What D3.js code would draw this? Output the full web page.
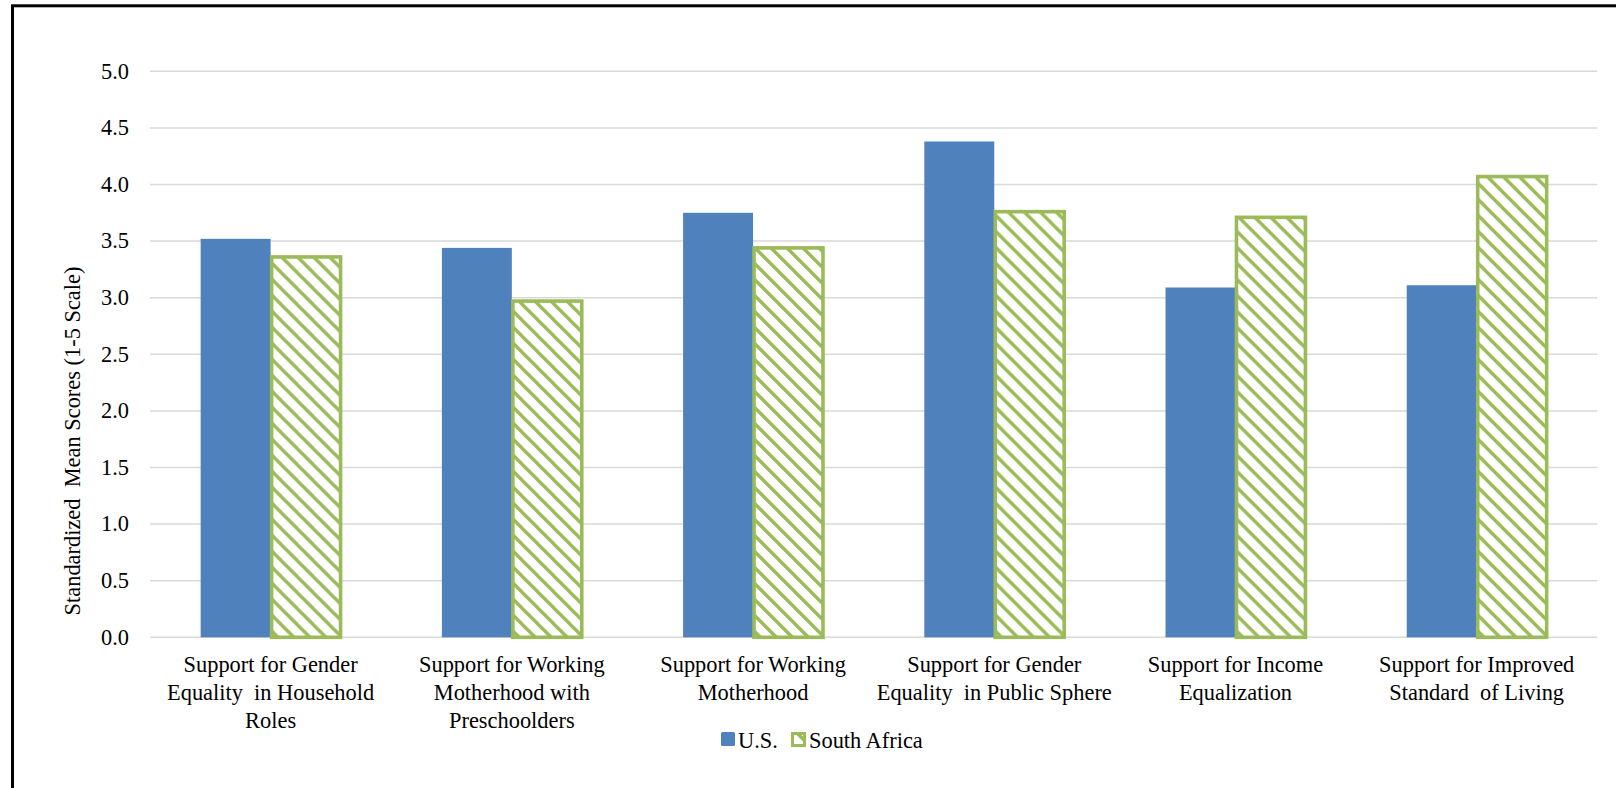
<!DOCTYPE html>
<html>
<head>
<meta charset="utf-8">
<script src="https://cdn.jsdelivr.net/npm/d3@7"></script>
<style>
  html, body { margin: 0; padding: 0; background: #fff; overflow: hidden; }
  text { font-family: "Liberation Serif", "Times New Roman", serif; fill: #000; white-space: pre; }
</style>
</head>
<body>
<svg id="chart" width="1616" height="788"></svg>
<script>
// Category labels (one entry per line)
const categories = [
  ["Support for Gender", "Equality  in Household", "Roles"],
  ["Support for Working", "Motherhood with", "Preschoolders"],
  ["Support for Working", "Motherhood"],
  ["Support for Gender", "Equality  in Public Sphere"],
  ["Support for Income", "Equalization"],
  ["Support for Improved", "Standard  of Living"]
];
const seriesNames = ["U.S.", "South Africa"];
const usValues = [3.52, 3.44, 3.75, 4.38, 3.09, 3.11];
const saValues = [3.36, 2.97, 3.44, 3.76, 3.71, 4.07];
const yTicks = [0, 0.5, 1, 1.5, 2, 2.5, 3, 3.5, 4, 4.5, 5];
const yTitle = "Standardized  Mean Scores (1-5 Scale)";

const blue = "#4F81BD";
const green = "#9BBB59";

const svg = d3.select("#chart");
const fontSize = 22.4;

// Hatch pattern for the South Africa series
const defs = svg.append("defs");
const pat = defs.append("pattern")
  .attr("id", "hatch")
  .attr("patternUnits", "userSpaceOnUse")
  .attr("width", 16).attr("height", 16);
pat.append("rect").attr("width", 16).attr("height", 16).attr("fill", "#fff");
pat.append("path")
  .attr("d", "M-4,-4 L20,20 M-12,4 L4,20 M4,-12 L20,4")
  .attr("stroke", green).attr("stroke-width", 3.4);

// Outer frame
svg.append("rect")
  .attr("x", 12.5).attr("y", 5.8)
  .attr("width", 1800).attr("height", 1000)
  .attr("fill", "none").attr("stroke", "#000").attr("stroke-width", 3);

const plotLeft = 150, plotRight = 1597.3;
const y = d3.scaleLinear().domain([0, 5]).range([637.3, 71.3]);
const x0 = d3.scaleBand()
  .domain(d3.range(categories.length))
  .range([plotLeft, plotRight])
  .paddingInner(0.42)
  .paddingOuter(0.21);
const x1 = d3.scaleBand()
  .domain(seriesNames)
  .range([0, x0.bandwidth()]);

// Gridlines
svg.append("g").selectAll("line")
  .data(yTicks)
  .join("line")
  .attr("x1", plotLeft).attr("x2", plotRight)
  .attr("y1", d => y(d)).attr("y2", d => y(d))
  .attr("stroke", "#D9D9D9").attr("stroke-width", 1.5);

// Y tick labels
svg.append("g").selectAll("text")
  .data(yTicks)
  .join("text")
  .attr("x", 129)
  .attr("y", d => y(d))
  .attr("dy", "0.33em")
  .attr("text-anchor", "end")
  .style("font-size", fontSize + "px")
  .text(d => d3.format(".1f")(d));

// Y axis title
svg.append("text")
  .attr("transform", "translate(80,441) rotate(-90)")
  .attr("text-anchor", "middle")
  .style("font-size", fontSize + "px")
  .text(yTitle);

// Bars
const groups = svg.append("g").selectAll("g")
  .data(categories.map((c, i) => i))
  .join("g")
  .attr("transform", i => `translate(${x0(i)},0)`);

groups.append("rect")
  .attr("x", x1("U.S."))
  .attr("width", x1.bandwidth())
  .attr("y", i => y(usValues[i]))
  .attr("height", i => y(0) - y(usValues[i]))
  .attr("fill", blue);

groups.append("rect")
  .attr("x", x1("South Africa") + 1)
  .attr("width", x1.bandwidth() - 1)
  .attr("y", i => y(saValues[i]))
  .attr("height", i => y(0) - y(saValues[i]))
  .attr("fill", "url(#hatch)")
  .attr("stroke", green).attr("stroke-width", 3.6);

// Category labels
const lab = svg.append("g").selectAll("text")
  .data(categories)
  .join("text")
  .attr("text-anchor", "middle")
  .style("font-size", fontSize + "px");
lab.each(function(lines, i) {
  const cx = x0(i) + x0.bandwidth() / 2;
  d3.select(this).selectAll("tspan")
    .data(lines)
    .join("tspan")
    .attr("x", cx)
    .attr("y", (d, k) => 671.7 + k * 28)
    .text(d => d);
});

// Legend
const legend = svg.append("g");
legend.append("rect")
  .attr("x", 721).attr("y", 732).attr("width", 14).attr("height", 14)
  .attr("rx", 1.5).attr("fill", blue);
legend.append("text")
  .attr("x", 738).attr("y", 748)
  .style("font-size", fontSize + "px")
  .text(seriesNames[0]);
legend.append("rect")
  .attr("x", 792.5).attr("y", 733.5).attr("width", 12).attr("height", 12)
  .attr("fill", "url(#hatch)").attr("stroke", green).attr("stroke-width", 3);
legend.append("text")
  .attr("x", 809).attr("y", 748)
  .style("font-size", fontSize + "px")
  .text(seriesNames[1]);
</script>
</body>
</html>
